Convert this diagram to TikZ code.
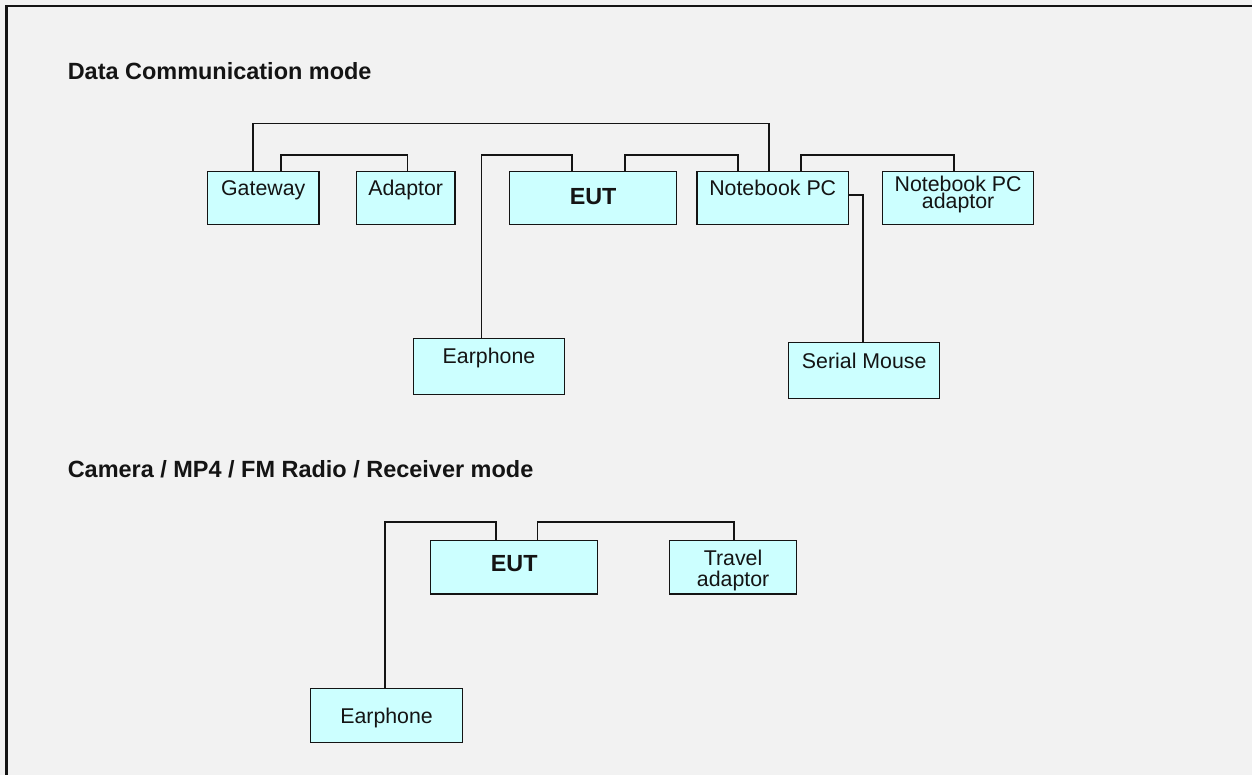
\documentclass[tikz,border=0pt]{standalone}
\usepackage{fontspec}
\setmainfont{Liberation Sans}
\usetikzlibrary{calc}
\definecolor{paper}{HTML}{F2F2F2}
\definecolor{boxfill}{HTML}{CCFFFF}
\definecolor{ink}{HTML}{141414}
\tikzset{
  box/.style={draw=ink, fill=boxfill, line width=1.1pt, rectangle, inner sep=0pt, anchor=north west},
  lbl/.style={anchor=base, inner sep=0pt, text=ink, font=\fontsize{16}{16}\selectfont},
  boldlbl/.style={anchor=base, inner sep=0pt, text=ink, font=\fontsize{17.5}{17.5}\selectfont\bfseries},
  heading/.style={anchor=base west, inner sep=0pt, text=ink, font=\fontsize{17.6}{17.6}\selectfont\bfseries},
  wire/.style={draw=ink, line width=1.2pt},
  frame/.style={draw=ink, line width=1.6pt}
}
\begin{document}
\begin{tikzpicture}[x=0.75pt, y=-0.75pt]
  \useasboundingbox (0,0) rectangle (1252,775);
  \fill[paper] (0,0) rectangle (1252,775);
  \coordinate (fr-tr) at (1252,6);
  \coordinate (fr-tl) at (6.5,6);
  \coordinate (fr-bl) at (6.5,775);
  \draw[frame] (fr-tr) -- (fr-tl) -- (fr-bl);

  % ---------- Data Communication mode ----------
  \node[heading] (h1) at (67.5,79.3) {Data Communication mode};

  \node[box, minimum width=111.6*.75pt, minimum height=53*.75pt] (gw)  at (206.7,171) {};
  \node[box, minimum width=98.6*.75pt,  minimum height=53*.75pt] (ad)  at (355.7,171) {};
  \node[box, minimum width=166.7*.75pt, minimum height=53*.75pt] (eut1) at (509,171) {};
  \node[box, minimum width=151.4*.75pt, minimum height=53*.75pt] (nb)  at (696.3,171) {};
  \node[box, minimum width=151.3*.75pt, minimum height=53*.75pt] (nba) at (881.7,171) {};
  \node[box, minimum width=151.5*.75pt, minimum height=56*.75pt] (ear1) at (412.5,338) {};
  \node[box, minimum width=151*.75pt,   minimum height=56*.75pt] (sm)  at (788,342) {};

  \node[lbl] (gw-l)  at ($(gw.north)+(0,24.3)$) {Gateway};
  \node[lbl] (ad-l)  at ($(ad.north)+(0,24.3)$) {Adaptor};
  \node[boldlbl] (eut1-l) at ($(eut1.north)+(0,33)$) {EUT};
  \node[lbl] (nb-l)  at ($(nb.north)+(0,24.3)$) {Notebook PC};
  \node[lbl] (nba-l1) at ($(nba.north)+(0,20.3)$) {Notebook PC};
  \node[lbl] (nba-l2) at ($(nba.north)+(0,37.2)$) {adaptor};
  \node[lbl] (ear1-l) at ($(ear1.north)+(0,25.7)$) {Earphone};
  \node[lbl] (sm-l)  at ($(sm.north)+(0,26)$) {Serial Mouse};

  % cables
  \draw[wire] ($(gw.north west)+(46.3,0)$) -- ++(0,-47.7) -| ($(nb.north west)+(72.4,0)$);
  \draw[wire] ($(gw.north west)+(74.3,0)$) -- ++(0,-16) -| ($(ad.north west)+(51.6,0)$);
  \draw[wire] ($(ear1.north west)+(68.9,0)$) -- ++(0,-183) -| ($(eut1.north west)+(62.7,0)$);
  \draw[wire] ($(eut1.north west)+(116,0)$) -- ++(0,-16) -| ($(nb.north west)+(41.4,0)$);
  \draw[wire] ($(nb.north west)+(104.4,0)$) -- ++(0,-16) -| ($(nba.north west)+(72.3,0)$);
  \draw[wire] ($(nb.north east)+(0,24)$) -| ($(sm.north west)+(74.7,0)$);

  % ---------- Camera / MP4 / FM Radio / Receiver mode ----------
  \node[heading] (h2) at (67.5,477) {Camera / MP4 / FM Radio / Receiver mode};

  \node[box, minimum width=167*.75pt,   minimum height=53.3*.75pt] (eut2) at (430,540) {};
  \node[box, minimum width=127.3*.75pt, minimum height=53.3*.75pt] (tr)   at (668.7,540) {};
  \node[box, minimum width=151.7*.75pt, minimum height=53.7*.75pt] (ear2) at (310,688) {};

  \node[boldlbl] (eut2-l) at ($(eut2.north)+(0,31.7)$) {EUT};
  \node[lbl] (tr-l1) at ($(tr.north)+(0,25)$) {Travel};
  \node[lbl] (tr-l2) at ($(tr.north)+(0,46.7)$) {adaptor};
  \node[lbl] (ear2-l) at ($(ear2.north)+(0,35)$) {Earphone};

  \draw[wire] ($(ear2.north west)+(75,0)$) -- ++(0,-166.3) -| ($(eut2.north west)+(66,0)$);
  \draw[wire] ($(eut2.north west)+(107.3,0)$) -- ++(0,-18.3) -| ($(tr.north west)+(65.3,0)$);
\end{tikzpicture}
\end{document}
